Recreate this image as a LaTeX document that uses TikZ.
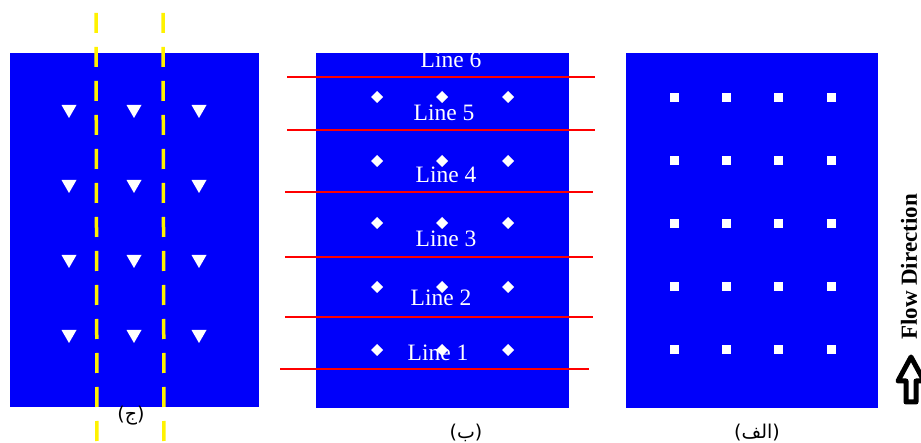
\documentclass[tikz,border=0pt]{standalone}
\usepackage{fontspec}
\setmainfont{Liberation Serif}
\newfontfamily\arabicfont[Script=Arabic]{DejaVu Sans}
\TeXXeTstate=1
\usepackage{tikz}
\usetikzlibrary{positioning}
\usepackage{xcolor}
\definecolor{panelblue}{RGB}{0,0,250}

\tikzset{
	panel/.style={fill=panelblue, draw=none},
	cutline/.style={red, line width=1.6pt},
	yline/.style={yellow, line width=3.5pt, dash pattern=on 20pt off 14pt},
	linelabel/.style={text=white, inner sep=0pt, font=\fontsize{23.5}{24}\selectfont},
	caption/.style={inner sep=0pt, font=\arabicfont\fontsize{19}{20}\selectfont}
}

\begin{document}
\begin{tikzpicture}[x=1pt, y=-1pt]
		\useasboundingbox (0,0) rectangle (921,443);
		
		% panels
		\fill[panel] (10,53) rectangle (259,407);
		\fill[panel] (316,53) rectangle (569,408);
		\fill[panel] (626,53) rectangle (878,408);
		
		% (j) triangles
		\foreach \y in {111,186,261,336}
		\foreach \x in {69,134,199}
		\fill[white] (\x-7.5,\y-6) -- (\x+7.5,\y-6) -- (\x,\y+7) -- cycle;
		\draw[yline] (96,13) -- (97,443);
		\draw[yline] (163,13) -- (164,443);
		
		% (b) diamonds and lines
		\foreach \y in {97,161,223,287,350}
		\foreach \x in {377,442,508}
		\fill[white] (\x,\y-6) -- (\x+6,\y) -- (\x,\y+6) -- (\x-6,\y) -- cycle;
		\draw[cutline] (287,77) -- (595,77);
		\draw[cutline] (287,130) -- (595,130);
		\draw[cutline] (285,192) -- (593,192);
		\draw[cutline] (285,257) -- (593,257);
		\draw[cutline] (285,317) -- (593,317);
		\draw[cutline] (280,369) -- (589,369);
		\node[linelabel] (l6) at (451,60) {Line 6};
		\node[linelabel] (l5) at (444,113) {Line 5};
		\node[linelabel] (l4) at (446,175) {Line 4};
		\node[linelabel] (l3) at (446,239) {Line 3};
		\node[linelabel] (l2) at (441,298) {Line 2};
		\node[linelabel] (l1) at (438,353) {Line 1};
		
		% (alef) squares
		\foreach \y in {98,161,224,287,350}
		\foreach \x in {674,726,778,831}
		\fill[white] (\x-4.5,\y-4.5) rectangle (\x+4.5,\y+4.5);
		
		% flow direction
		\node[rotate=90, inner sep=0pt, font=\bfseries\fontsize{23}{24}\selectfont] (flow) at (909,267) {Flow Direction};
		\draw[line width=5pt, line join=round] (911,357) -- (924,381) -- (916,381) -- (916,402) -- (906,402) -- (906,381) -- (898,381) -- cycle;
		
		% captions
		\node[caption] (cj) at (131,416) {\beginR(ج)\endR};
		\node[caption] (cb) at (466,433) {\beginR(ب)\endR};
		\node[caption] (ca) at (757,433) {\beginR(الف)\endR};
	\end{tikzpicture}
\end{document}
